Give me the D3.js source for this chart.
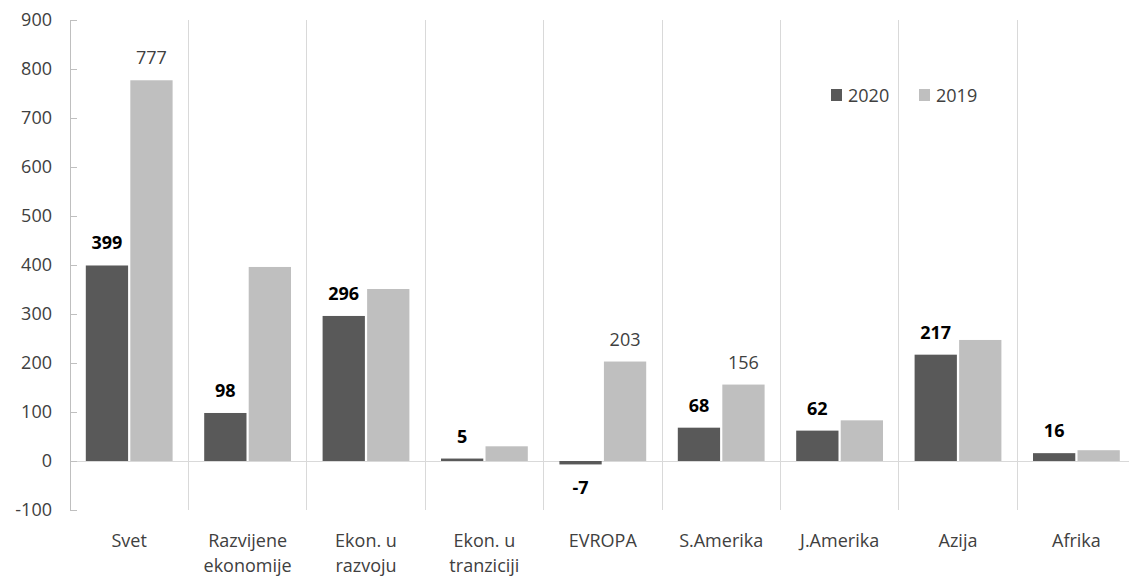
<!DOCTYPE html>
<html>
<head>
<meta charset="utf-8">
<script src="https://cdn.jsdelivr.net/npm/d3@7"></script>
<style>
  html, body { margin: 0; padding: 0; background: #fff; }
  svg { display: block; }
  text { font-family: "Open Sans", "Noto Sans", sans-serif; }
</style>
</head>
<body>
<svg id="chart" width="1129" height="576"></svg>
<script>
// Regions (each label may wrap onto two lines)
const categories = [
  ["Svet"],
  ["Razvijene", "ekonomije"],
  ["Ekon. u", "razvoju"],
  ["Ekon. u", "tranziciji"],
  ["EVROPA"],
  ["S.Amerika"],
  ["J.Amerika"],
  ["Azija"],
  ["Afrika"]
];
const seriesNames = ["2020", "2019"];
const values2020 = [399, 98, 296, 5, -7, 68, 62, 217, 16];
const values2019 = [777, 396, 351, 30, 203, 156, 83, 247, 22];
// Value labels drawn for 2019 (null = no label)
const labels2019 = [777, null, null, null, 203, 156, null, null, null];
const yTicks = [-100, 0, 100, 200, 300, 400, 500, 600, 700, 800, 900];

const colors = { "2020": "#595959", "2019": "#bfbfbf" };

const svg = d3.select("#chart");
const plotLeft = 70, plotTop = 20, plotBottom = 510;
const bandW = 118.4;
const plotRight = plotLeft + bandW * categories.length;

const catKeys = categories.map(c => c.join(" "));
const x0 = d3.scaleBand().domain(catKeys).range([plotLeft, plotRight]).padding(0);
const pad = 15.8;
const x1 = d3.scaleBand().domain(seriesNames)
  .range([pad, x0.bandwidth() - pad]).paddingInner(0.05);
const y = d3.scaleLinear().domain([-100, 900]).range([plotBottom, plotTop]);

const rows = catKeys.map((k, i) => ({
  key: k,
  lines: categories[i],
  vals: [
    { s: "2020", v: values2020[i], label: values2020[i], bold: true },
    { s: "2019", v: values2019[i], label: labels2019[i], bold: false }
  ]
}));

// Category separators
svg.append("g").selectAll("line")
  .data(catKeys.slice(1))
  .join("line")
  .attr("x1", d => x0(d)).attr("x2", d => x0(d))
  .attr("y1", plotTop).attr("y2", plotBottom)
  .attr("stroke", "#d9d9d9").attr("stroke-width", 1)
  .attr("shape-rendering", "crispEdges");

// Zero line
svg.append("line")
  .attr("x1", plotLeft).attr("x2", plotRight)
  .attr("y1", y(0)).attr("y2", y(0))
  .attr("stroke", "#d9d9d9").attr("stroke-width", 1)
  .attr("shape-rendering", "crispEdges");

// Value axis
const yAxis = d3.axisRight(y).tickValues(yTicks).tickSize(7).tickFormat("");
const yg = svg.append("g").attr("transform", `translate(${plotLeft},0)`).call(yAxis);
yg.selectAll("path, line").attr("stroke", "#bfbfbf").attr("shape-rendering", "crispEdges");
yg.select(".domain").attr("d", `M0,${plotTop}V${plotBottom}`);

svg.append("g").selectAll("text")
  .data(yTicks)
  .join("text")
  .attr("x", 52)
  .attr("y", d => y(d))
  .attr("dy", "0.35em")
  .attr("text-anchor", "end")
  .attr("font-size", 18)
  .attr("fill", "#404040")
  .text(d => d);

// Bars
const groups = svg.append("g").selectAll("g")
  .data(rows)
  .join("g")
  .attr("transform", d => `translate(${x0(d.key)},0)`);

groups.selectAll("rect")
  .data(d => d.vals)
  .join("rect")
  .attr("x", d => x1(d.s))
  .attr("width", x1.bandwidth())
  .attr("y", d => y(Math.max(0, d.v)))
  .attr("height", d => Math.abs(y(d.v) - y(0)))
  .attr("fill", d => colors[d.s]);

// Value labels
groups.selectAll("text.val")
  .data(d => d.vals.filter(v => v.label !== null))
  .join("text")
  .attr("class", "val")
  .attr("x", d => x1(d.s) + x1.bandwidth() / 2)
  .attr("y", d => d.v >= 0 ? y(d.v) - 16 : y(d.v) + 30)
  .attr("text-anchor", "middle")
  .attr("font-size", 18)
  .attr("font-weight", d => d.bold ? 700 : 400)
  .attr("fill", d => d.bold ? "#000" : "#404040")
  .text(d => d.label);

// Category labels
groups.append("text")
  .attr("x", x0.bandwidth() / 2)
  .attr("text-anchor", "middle")
  .attr("font-size", 18)
  .attr("fill", "#404040")
  .selectAll("tspan")
  .data(d => d.lines)
  .join("tspan")
  .attr("x", x0.bandwidth() / 2)
  .attr("y", (d, i) => 547 + i * 25)
  .text(d => d);

// Legend
const legend = svg.append("g").selectAll("g")
  .data(seriesNames)
  .join("g")
  .attr("transform", (d, i) => `translate(${831 + i * 88},89)`);
legend.append("rect")
  .attr("width", 11).attr("height", 12)
  .attr("fill", d => colors[d]);
legend.append("text")
  .attr("x", 17).attr("y", 13)
  .attr("font-size", 18)
  .attr("fill", "#404040")
  .text(d => d);
</script>
</body>
</html>
